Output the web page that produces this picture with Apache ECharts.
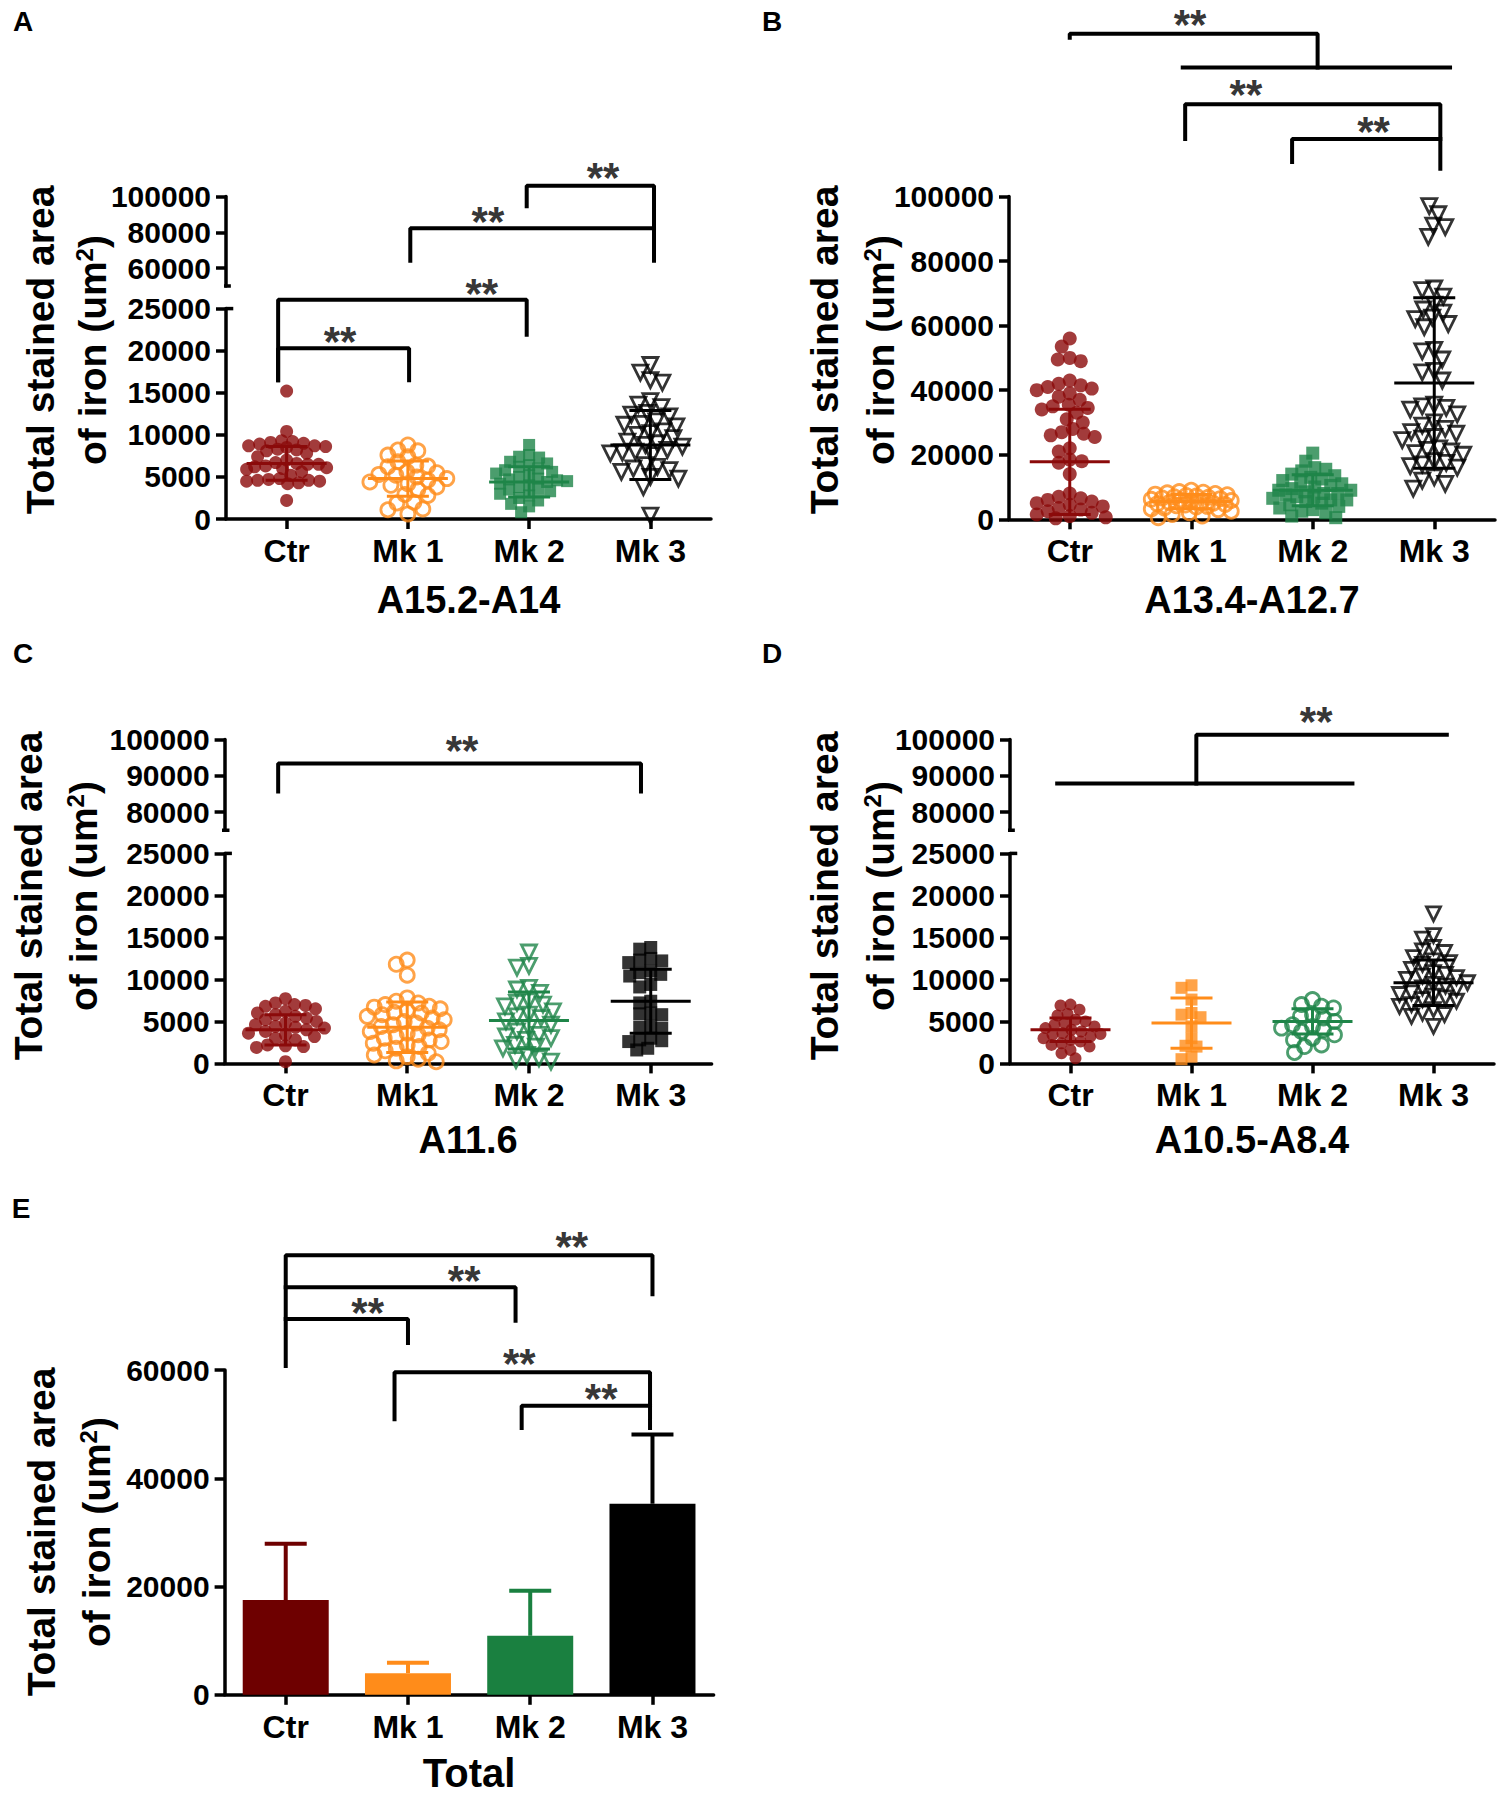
<!DOCTYPE html>
<html><head><meta charset="utf-8">
<script src="https://cdn.jsdelivr.net/npm/echarts@6/dist/echarts.min.js"></script>
<style>html,body{margin:0;padding:0;background:#fff}#c{width:1500px;height:1804px}</style>
</head><body><div id="c"></div>
<script>
const FONT = 'Liberation Sans, Arial, sans-serif';
// ---------- categories & titles ----------
const catsA = ['Ctr', 'Mk 1', 'Mk 2', 'Mk 3'];
const catsB = ['Ctr', 'Mk 1', 'Mk 2', 'Mk 3'];
const catsC = ['Ctr', 'Mk1', 'Mk 2', 'Mk 3'];
const catsD = ['Ctr', 'Mk 1', 'Mk 2', 'Mk 3'];
const catsE = ['Ctr', 'Mk 1', 'Mk 2', 'Mk 3'];
const xTitles = ['A15.2-A14', 'A13.4-A12.7', 'A11.6', 'A10.5-A8.4', 'Total'];
const yTitle1 = 'Total stained area';
const yTitle2 = 'of iron (um{sup|2})';
const ticksUpperA = [60000, 80000, 100000];
const ticksUpperCD = [80000, 90000, 100000];

// ---------- panel A : A15.2-A14 ----------
const A_ctr = [15200,10400,9300,9200,9100,9000,8900,8700,8700,8600,8500,8300,8200,8100,7800,7400,7000,6700,6600,6500,6500,6300,6200,6100,6000,5900,5600,5200,4800,4700,4600,4600,4500,4500,4300,4200,2200];
const A_mk1 = [8800,8200,8100,7600,7400,6800,6400,6300,6200,5600,5500,5300,5200,5000,4800,4600,4400,4200,4000,3800,3500,2900,2800,2000,1900,1200,1100,600];
const A_mk2 = [8800,7600,7400,7300,6800,6600,6400,6200,6000,5800,5600,5400,5200,5000,4800,4700,4600,4500,4400,4200,4000,3800,3600,3500,3300,3000,2800,2500,2200,1800,1500,800];
const A_mk3 = [18300,17400,16500,16200,14000,13600,13300,12600,12400,12200,11600,11300,11200,11000,10400,10200,10000,9600,9200,9000,8800,8600,8200,8000,7900,7800,7600,6400,6200,6000,5800,5600,5000,4800,3800,400];
const A_mean = [6600, 4800, 4400, 8800];
const A_sd = [2000, 2100, 1800, 4100];

// ---------- panel B : A13.4-A12.7 ----------
const B_ctr = [56000,53500,50000,49500,49000,43000,42000,41500,41000,40500,40000,39000,38000,37000,35500,35000,34500,34000,33000,31000,30000,28000,27000,26500,26000,25500,22000,21000,18500,18000,17500,14000,8000,7000,6500,6000,5500,5000,4500,4000,3500,3000,2500,2000,1500,1000,600,300];
const B_mk1 = [9000,8600,8400,8200,8000,7800,7600,7400,7200,7000,6800,6600,6400,6200,6000,5800,5600,5400,5200,5000,4800,4600,4400,4200,4000,3800,3500,3200,3000,2500,2000,1500,1000,500];
const B_mk2 = [20500,18000,16000,15500,15000,14000,13500,13000,12500,12000,11500,11000,10500,10000,9500,9000,9000,8500,8000,8000,7500,7000,7000,6500,6000,6000,5500,5000,4500,4000,3500,3000,2500,2000,1000,500];
const B_mk3 = [100500,97000,94500,91000,90500,87500,71500,71000,69000,66500,65000,64000,62500,62000,60500,59500,52500,52000,49500,46000,45500,43000,35500,35000,34500,34000,32500,30000,29000,28000,27000,26500,25500,25000,24500,22000,21500,21000,20500,20000,18000,17500,17000,16500,16000,13000,12000,11000,9500];
const B_mean = [17800, 5500, 9000, 42200];
const B_sd = [16300, 2200, 4800, 26400];

// ---------- panel C : A11.6 ----------
const C_ctr = [7700,7200,7000,6900,6800,6500,6200,6000,5800,5600,5400,5200,5000,4800,4600,4400,4300,4200,4000,3800,3600,3400,3200,3000,2800,2200,2100,2000,1900,200];
const C_mk1 = [12300,11800,10500,7800,7400,7200,7000,6800,6700,6500,6300,6100,6000,5800,5600,5400,5200,5000,4800,4600,4400,4200,4000,3800,3600,3400,3200,3000,2800,2600,2400,2200,2000,1800,1500,1200,1000,800,500,300,200];
const C_mk2 = [13200,11600,11400,9000,8800,8400,7400,7200,7000,6800,6200,5800,5600,5400,5000,4600,4200,3800,3400,3200,3000,2800,2200,2000,1800,1000,600,400,200];
const C_mk3 = [13800,13600,12500,12300,12200,12000,11000,10800,10600,10400,9400,9100,7400,7200,6000,5900,5800,4500,4300,4200,3000,2800,2700,2600,1800,1600];
const C_mean = [4000, 4300, 5100, 7400];
const C_sd = [1800, 3000, 3400, 3800];

// ---------- panel D : A10.5-A8.4 ----------
const D_ctr = [7000,6900,6400,5900,5700,5200,5000,4800,4600,4400,4200,4000,3800,3600,3500,3400,3200,3000,2800,2600,2400,2200,2000,1600,1200,600];
const D_mk1 = [9300,9000,7600,6000,5800,5500,4400,3000,2100,2000,800,500];
const D_mk2 = [7600,7000,6800,6600,5800,5600,5400,5000,4600,4400,4200,4000,3800,3400,3000,2800,2200,2000,1300];
const D_mk3 = [17800,15200,14800,13800,13400,13200,12600,12200,12000,11800,11200,10800,10600,10400,10200,10000,9600,9400,9200,9000,8800,8400,8200,8000,7800,7600,7400,7000,6800,6400,6000,5800,5600,4400];
const D_mean = [4000, 4800, 5000, 9600];
const D_sd = [1400, 3000, 1500, 2700];

// ---------- panel E : Total ----------
const E_mean = [17500, 4000, 10900, 35300];
const E_sd = [10400, 1900, 8300, 12800];

// ---------- significance brackets (category index, value) ----------
const A_brLow = [
  [[-0.07,16500],[-0.07,20300],[1.01,20300],[1.01,16500]],
  [[-0.07,16500],[-0.07,26060],[1.98,26060],[1.98,21900]]
];
const A_starLow = [[0.44,21700],[1.61,27400]];
const A_brUp = [
  [[1.02,64100],[1.02,82200],[3.03,82200]],
  [[3.03,64100],[3.03,106000],[1.98,106000],[1.98,94500]]
];
const A_starUp = [[1.66,88900],[2.61,113300]];
const B_br = [
  [[0.0,149200],[0.0,150400],[2.04,150400],[2.04,140000]],
  [[0.93,140000],[3.13,140000]],
  [[0.95,117800],[0.95,128600],[3.05,128600],[3.05,108600]],
  [[1.83,110700],[1.83,117800],[3.05,117800]]
];
const B_star = [[0.99,154700],[1.45,133200],[2.5,121800]];
const C_brUp = [[[-0.06,85650],[-0.06,93400],[2.92,93400],[2.92,85650]]];
const C_starUp = [[1.45,98300]];
const D_brUp = [
  [[-0.11,87900],[2.33,87900]],
  [[1.04,87900],[1.04,101300],[3.11,101300]]
];
const D_starUp = [[2.03,106200]];
const E_br = [
  [[0,60750],[0,81200],[3,81200],[3,74000]],
  [[0,75300],[1.88,75300],[1.88,69100]],
  [[0,69400],[1,69400],[1,65000]],
  [[0.89,50900],[0.89,59600],[2.98,59600],[2.98,49300]],
  [[1.93,49300],[1.93,53400],[2.98,53400]]
];
const E_star = [[2.34,83700],[1.46,77500],[0.67,71600],[1.91,62200],[2.58,55600]];

// ---------- styling ----------
const COLORS = ['#8B0A0A', '#FF8C1A', '#1E8548', '#000000'];
const BAR_COLORS = ['#6E0000', '#FF8C1A', '#1A8040', '#000000'];
const LW = 3.5;

const grids = [], xAxes = [], yAxes = [], series = [], graphics = [];

function addPanel(g, x, y) {
  grids.push(Object.assign({ outerBoundsMode: 'none', containLabel: false }, g));
  const gi = grids.length - 1;
  xAxes.push(Object.assign({ gridIndex: gi }, x));
  yAxes.push(Object.assign({ gridIndex: gi }, y));
  return gi;
}
function yAxisCfg(min, max, interval, ticks) {
  const c = {
    type: 'value', min: min, max: max, splitLine: { show: false },
    axisLine: { show: true, onZero: false, lineStyle: { color: '#000', width: LW } },
    axisTick: { show: true, length: 10, lineStyle: { color: '#000', width: LW } },
    axisLabel: { color: '#000', fontFamily: FONT, fontWeight: 'bold', fontSize: 30, margin: 15,
      formatter: function (v) { return String(v); } }
  };
  if (interval) c.interval = interval;
  if (ticks) { c.axisTick.customValues = ticks; c.axisLabel.customValues = ticks; }
  return c;
}
function xAxisCfg(cats, name, show, nameGap, nameSize) {
  return {
    type: 'value', min: -0.5, max: 3.5, show: show, splitLine: { show: false },
    axisLine: { show: true, onZero: false, lineStyle: { color: '#000', width: LW } },
    axisTick: { show: true, length: 10, lineStyle: { color: '#000', width: LW }, customValues: [0, 1, 2, 3] },
    axisLabel: { customValues: [0, 1, 2, 3], formatter: function (v) { return cats[Math.round(v)]; },
      color: '#000', fontFamily: FONT, fontWeight: 'bold', fontSize: 32, margin: 16 },
    name: name, nameLocation: 'middle', nameGap: nameGap,
    nameTextStyle: { color: '#000', fontFamily: FONT, fontWeight: 'bold', fontSize: nameSize || 38 }
  };
}
// beeswarm horizontal spreading of the points (pixel based, returns category offsets)
function swarm(vals, pxPerVal, bandPx, d, maxW) {
  const order = vals.map(function (v, i) { return i; }).sort(function (a, b) { return vals[b] - vals[a]; });
  const placed = []; const off = new Array(vals.length).fill(0);
  order.forEach(function (i) {
    const y = vals[i] * pxPerVal;
    let best = 0, bestD = -1;
    for (let k = 0; k <= 2 * maxW; k++) {
      const x = (k % 2 === 0 ? 1 : -1) * Math.ceil(k / 2);
      let md = Infinity;
      for (const p of placed) { const dx = p[0] - x, dy = p[1] - y; const dd = Math.sqrt(dx * dx + dy * dy); if (dd < md) md = dd; }
      if (md >= d) { best = x; bestD = md; break; }
      if (md > bestD) { bestD = md; best = x; }
    }
    placed.push([best, y]); off[i] = best / bandPx;
  });
  return off;
}
function addScatter(gi, groups, markers, pxPerVal, bandPx) {
  groups.forEach(function (vals, gIdx) {
    const m = markers[gIdx];
    const off = swarm(vals, pxPerVal, bandPx, m.size * 0.8, 40);
    series.push({
      type: 'scatter', xAxisIndex: gi, yAxisIndex: gi, silent: true, z: 2,
      data: vals.map(function (v, i) { return [gIdx + off[i], v]; }),
      symbol: m.symbol, symbolSize: m.size, symbolRotate: m.rotate || 0,
      itemStyle: m.filled ? { color: COLORS[gIdx] } : { color: 'rgba(255,255,255,0)', borderColor: COLORS[gIdx], borderWidth: 2.8 }
    });
  });
}
function addMeanSd(gi, means, sds) {
  series.push({
    type: 'custom', xAxisIndex: gi, yAxisIndex: gi, z: 4, silent: true,
    data: means.map(function (m, i) { return [i, m, sds[i]]; }),
    renderItem: function (params, api) {
      const i = api.value(0), m = api.value(1), s = api.value(2);
      const pm = api.coord([i, m]), pt = api.coord([i, m + s]), pb = api.coord([i, Math.max(m - s, 0)]);
      const st = { stroke: COLORS[i], lineWidth: 3 };
      return { type: 'group', children: [
        { type: 'line', shape: { x1: pm[0] - 40, y1: pm[1], x2: pm[0] + 40, y2: pm[1] }, style: st },
        { type: 'line', shape: { x1: pt[0], y1: pt[1], x2: pb[0], y2: pb[1] }, style: st },
        { type: 'line', shape: { x1: pt[0] - 21, y1: pt[1], x2: pt[0] + 21, y2: pt[1] }, style: st },
        { type: 'line', shape: { x1: pb[0] - 21, y1: pb[1], x2: pb[0] + 21, y2: pb[1] }, style: st }
      ] };
    }
  });
}
function addBrackets(gi, brs, stars) {
  brs.forEach(function (b) {
    series.push({ type: 'line', xAxisIndex: gi, yAxisIndex: gi, data: b, symbol: 'none', clip: false, silent: true, z: 5,
      lineStyle: { color: '#000', width: 4, cap: 'square' } });
  });
  if (stars && stars.length) {
    series.push({ type: 'scatter', xAxisIndex: gi, yAxisIndex: gi, data: stars, symbolSize: 1, clip: false, silent: true, z: 5,
      itemStyle: { color: 'rgba(0,0,0,0)' },
      label: { show: true, position: 'inside', formatter: '**', fontSize: 42, fontWeight: 'bold', fontFamily: FONT, color: '#000', offset: [0, 5] } });
  }
}
function addBreak(gi, v, x1, x2) {
  series.push({ type: 'line', xAxisIndex: gi, yAxisIndex: gi, data: [[x1, v], [x2, v]], symbol: 'none', clip: false, silent: true, z: 5,
    lineStyle: { color: '#000', width: LW } });
}
function addTitles(x1, x2, yc, letter, lx, ly) {
  graphics.push({ type: 'text', x: x1, y: yc, rotation: Math.PI / 2,
    style: { text: yTitle1, fontFamily: FONT, fontWeight: 'bold', fontSize: 39, fill: '#000', align: 'center', verticalAlign: 'middle' } });
  graphics.push({ type: 'text', x: x2, y: yc, rotation: Math.PI / 2,
    style: { text: yTitle2, fontFamily: FONT, fontWeight: 'bold', fontSize: 39, fill: '#000', align: 'center', verticalAlign: 'middle',
      rich: { sup: { fontFamily: FONT, fontWeight: 'bold', fontSize: 24, fill: '#000', verticalAlign: 'top', padding: [0, 0, 16, 0] } } } });
  graphics.push({ type: 'text', x: lx, y: ly,
    style: { text: letter, fontFamily: FONT, fontWeight: 'bold', fontSize: 28, fill: '#000', align: 'center', verticalAlign: 'middle' } });
}

// ----- Panel A -----
const mkA = [{ symbol: 'circle', size: 13, filled: true }, { symbol: 'circle', size: 14 }, { symbol: 'rect', size: 12, filled: true }, { symbol: 'triangle', size: 15, rotate: 180 }];
const aUp = addPanel({ left: 226, top: 196.5, width: 485, height: 89.5 }, xAxisCfg(catsA, '', false, 0), yAxisCfg(50000, 100000, null, ticksUpperA));
const aLo = addPanel({ left: 226, top: 308.6, width: 485, height: 210.4 }, xAxisCfg(catsA, xTitles[0], true, 62), yAxisCfg(0, 25000, 5000));
addScatter(aLo, [A_ctr, A_mk1, A_mk2, A_mk3], mkA, 210.4 / 25000, 121.25);
addMeanSd(aLo, A_mean, A_sd);
addBrackets(aLo, A_brLow, A_starLow);
addBrackets(aUp, A_brUp, A_starUp);
addBreak(aUp, 50000, -0.545, -0.46);
addBreak(aLo, 25000, -0.5, -0.44);
addTitles(40, 92, 350, 'A', 23, 21);

// ----- Panel B -----
const mkB = [{ symbol: 'circle', size: 14, filled: true }, { symbol: 'circle', size: 14 }, { symbol: 'rect', size: 13, filled: true }, { symbol: 'triangle', size: 15, rotate: 180 }];
const bG = addPanel({ left: 1009, top: 196.5, width: 486, height: 322.8 }, xAxisCfg(catsB, xTitles[1], true, 62), yAxisCfg(0, 100000, 20000));
addScatter(bG, [B_ctr, B_mk1, B_mk2, B_mk3], mkB, 322.8 / 100000, 121.5);
addMeanSd(bG, B_mean, B_sd);
addBrackets(bG, B_br, B_star);
addTitles(824, 880, 350, 'B', 772, 21);

// ----- Panel C -----
const mkC = [{ symbol: 'circle', size: 13, filled: true }, { symbol: 'circle', size: 14 }, { symbol: 'triangle', size: 15, rotate: 180 }, { symbol: 'rect', size: 13, filled: true }];
const cUp = addPanel({ left: 224.6, top: 739.5, width: 487, height: 90.75 }, xAxisCfg(catsC, '', false, 0), yAxisCfg(75000, 100000, null, ticksUpperCD));
const cLo = addPanel({ left: 224.6, top: 853.4, width: 487, height: 210 }, xAxisCfg(catsC, xTitles[2], true, 58), yAxisCfg(0, 25000, 5000));
addScatter(cLo, [C_ctr, C_mk1, C_mk2, C_mk3], mkC, 210 / 25000, 121.75);
addMeanSd(cLo, C_mean, C_sd);
addBrackets(cUp, C_brUp, C_starUp);
addBreak(cUp, 75000, -0.545, -0.46);
addBreak(cLo, 25000, -0.5, -0.44);
addTitles(28, 83, 896, 'C', 23, 653);

// ----- Panel D -----
const mkD = [{ symbol: 'circle', size: 12, filled: true }, { symbol: 'rect', size: 12, filled: true }, { symbol: 'circle', size: 14 }, { symbol: 'triangle', size: 14, rotate: 180 }];
const dUp = addPanel({ left: 1010, top: 739.5, width: 484, height: 90.75 }, xAxisCfg(catsD, '', false, 0), yAxisCfg(75000, 100000, null, ticksUpperCD));
const dLo = addPanel({ left: 1010, top: 853.4, width: 484, height: 210 }, xAxisCfg(catsD, xTitles[3], true, 58), yAxisCfg(0, 25000, 5000));
addScatter(dLo, [D_ctr, D_mk1, D_mk2, D_mk3], mkD, 210 / 25000, 121);
addMeanSd(dLo, D_mean, D_sd);
addBrackets(dUp, D_brUp, D_starUp);
addBreak(dUp, 75000, -0.545, -0.46);
addBreak(dLo, 25000, -0.5, -0.44);
addTitles(824, 880, 896, 'D', 772, 653);

// ----- Panel E -----
const eG = addPanel({ left: 224.6, top: 1370, width: 489, height: 324.8 }, xAxisCfg(catsE, xTitles[4], true, 58, 40), yAxisCfg(0, 60000, 20000));
series.push({ type: 'bar', xAxisIndex: eG, yAxisIndex: eG, barWidth: 86, silent: true, z: 2,
  data: E_mean.map(function (v, i) { return { value: [i, v], itemStyle: { color: BAR_COLORS[i] } }; }) });
series.push({
  type: 'custom', xAxisIndex: eG, yAxisIndex: eG, z: 1, silent: true,
  data: E_mean.map(function (m, i) { return [i, m, E_sd[i]]; }),
  renderItem: function (params, api) {
    const i = api.value(0), m = api.value(1), s = api.value(2);
    const pm = api.coord([i, m]), pt = api.coord([i, m + s]);
    const st = { stroke: BAR_COLORS[i], lineWidth: 4 };
    return { type: 'group', children: [
      { type: 'line', shape: { x1: pm[0], y1: pm[1], x2: pt[0], y2: pt[1] }, style: st },
      { type: 'line', shape: { x1: pt[0] - 21, y1: pt[1], x2: pt[0] + 21, y2: pt[1] }, style: st }
    ] };
  }
});
addBrackets(eG, E_br, E_star);
addTitles(41, 96, 1532, 'E', 21, 1208);

const chart = echarts.init(document.getElementById('c'), null, { renderer: 'svg', width: 1500, height: 1804 });
chart.setOption({
  backgroundColor: '#ffffff',
  animation: false,
  textStyle: { fontFamily: FONT },
  grid: grids, xAxis: xAxes, yAxis: yAxes, series: series, graphic: graphics
});
</script></body></html>
